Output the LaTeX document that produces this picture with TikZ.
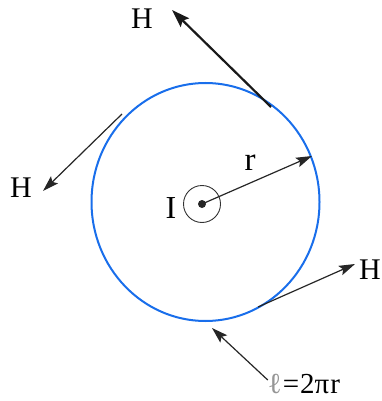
\documentclass[tikz,border=0pt]{standalone}
\usepackage{fontspec}
\setmainfont{Liberation Serif}
\usetikzlibrary{arrows.meta}
\definecolor{loopblue}{RGB}{25,110,235}
\definecolor{elgray}{RGB}{150,150,150}
\begin{document}
\begin{tikzpicture}[x=1pt,y=-1pt,
  lbl/.style={font=\fontsize{30}{32}\selectfont, inner sep=0pt},
  vec/.style={draw=black!85, line width=1.2pt, -{Stealth[length=16pt,width=10pt,inset=3pt]}},
  thickvec/.style={draw=black!90, line width=2.2pt, -{Stealth[length=18pt,width=12pt,inset=3pt]}}]
\useasboundingbox (0,0) rectangle (381,401);
% loop
\draw[loopblue, line width=2pt] (205.5,202) ellipse [x radius=114, y radius=119];
% current
\coordinate (c) at (202,204);
\node[draw=black!80, circle, line width=0.9pt, minimum size=37pt, inner sep=0pt] (wire) at (c) {};
\fill[black!85] (c) circle [radius=4];
\node[lbl, font=\fontsize{32}{34}\selectfont] (I) at (171,208) {I};
% radius
\coordinate (rend) at (312,156);
\draw[vec] (c) -- (rend);
\node[lbl, font=\fontsize{33}{35}\selectfont] (r) at (250,163) {r};
% H vectors
\coordinate (h1s) at (271,107);
\coordinate (h1e) at (172,10);
\draw[thickvec] (h1s) -- (h1e);
\node[lbl] (H1) at (142,19) {H};
\coordinate (h2s) at (122,114);
\coordinate (h2e) at (43,191);
\draw[vec] (h2s) -- (h2e);
\node[lbl] (H2) at (21,188) {H};
\coordinate (h3s) at (258,307);
\coordinate (h3e) at (355,264);
\draw[vec] (h3s) -- (h3e);
\node[lbl, anchor=west] (H3) at (359,270) {H};
% length
\node[lbl, font=\fontsize{29}{31}\selectfont] (len) at (304,384) {\textcolor{elgray}{ℓ}\kern1pt=\kern1pt2π\kern1ptr};
\coordinate (lt) at (212,328);
\draw[vec] (len.north west) ++(0,6) -- (lt);
\end{tikzpicture}
\end{document}
